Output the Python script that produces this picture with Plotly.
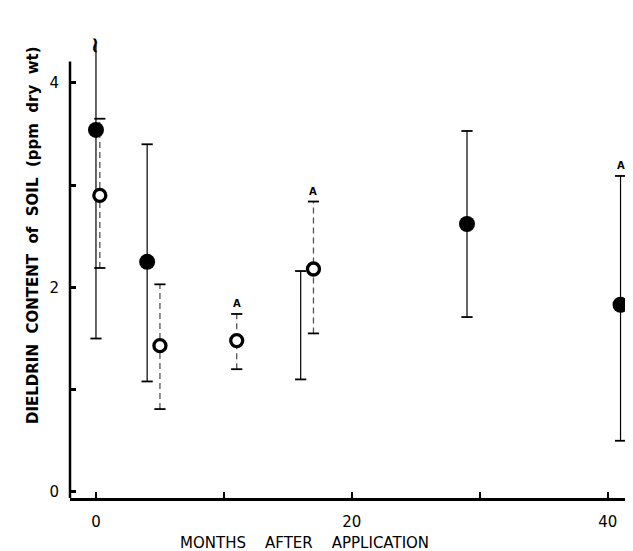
import plotly.graph_objects as go

# ---- data ----
filled_months = [0, 4, 29, 41]
filled_mean = [3.54, 2.25, 2.62, 1.83]
filled_low = [1.50, 1.08, 1.71, 0.50]
filled_high = [4.37, 3.40, 3.53, 3.09]
filled_broken = [True, False, False, False]   # upper bar runs off scale

bar_only_months = [16]
bar_only_low = [1.10]
bar_only_high = [2.16]

open_months = [0.3, 5, 11, 17]
open_mean = [2.90, 1.43, 1.48, 2.18]
open_low = [2.19, 0.81, 1.20, 1.55]
open_high = [3.65, 2.03, 1.74, 2.84]

a_months = [11, 17, 41]
a_values = [1.74, 2.84, 3.09]

x_tickvals = [0, 10, 20, 30, 40]
x_ticktext = ["0", "", "20", "", "40"]
y_tickvals = [0, 1, 2, 3, 4]
y_ticktext = ["0", "", "2", "", "4"]


def seg(xs, lo, hi):
    X, Y = [], []
    for x, a, b in zip(xs, lo, hi):
        X += [x, x, None]
        Y += [a, b, None]
    return X, Y


fig = go.Figure()

# solid bars (filled series + bar without marker)
sx, sy = seg(filled_months + bar_only_months, filled_low + bar_only_low,
             filled_high + bar_only_high)
fig.add_trace(go.Scatter(x=sx, y=sy, mode="lines",
                         line=dict(color="black", width=1.2),
                         hoverinfo="skip", showlegend=False))
# dashed bars (open series)
dx, dy = seg(open_months, open_low, open_high)
fig.add_trace(go.Scatter(x=dx, y=dy, mode="lines",
                         line=dict(color="#555", width=1.3, dash="6px,4px"),
                         hoverinfo="skip", showlegend=False))

# caps
cap_x = filled_months + bar_only_months * 2 + open_months * 2
cap_y = filled_low + bar_only_low + bar_only_high + open_low + open_high
for m, h, b in zip(filled_months, filled_high, filled_broken):
    if not b:
        cap_x.append(m)
        cap_y.append(h)
fig.add_trace(go.Scatter(x=cap_x, y=cap_y, mode="markers",
                         marker=dict(symbol="line-ew", size=8,
                                     line=dict(color="black", width=1.8)),
                         hoverinfo="skip", showlegend=False))

# markers
fig.add_trace(go.Scatter(x=filled_months, y=filled_mean, mode="markers",
                         marker=dict(symbol="circle", size=16, color="black",
                                     line=dict(width=0)),
                         showlegend=False))
fig.add_trace(go.Scatter(x=open_months, y=open_mean, mode="markers",
                         marker=dict(symbol="circle", size=12, color="white",
                                     line=dict(color="black", width=3.3)),
                         showlegend=False))

# "A" labels
for m, v in zip(a_months, a_values):
    fig.add_annotation(x=m, y=v, text="<b>A</b>", showarrow=False,
                       yanchor="bottom", yshift=3,
                       font=dict(family="DejaVu Sans", size=10, color="black"))

# scale break mark on the first filled bar
for m, h, b in zip(filled_months, filled_high, filled_broken):
    if b:
        fig.add_annotation(x=m, y=h, text="<b>~</b>", showarrow=False,
                           textangle=90,
                           font=dict(family="DejaVu Sans", size=22, color="black"))

# y axis line (drawn only up to the top of the scale)
fig.add_shape(type="line", xref="paper", yref="y", x0=0, x1=0,
              y0=-0.06, y1=4.21, line=dict(color="black", width=2.5))

# axis titles
fig.add_annotation(xref="paper", yref="paper", x=-0.066, y=0.575,
                   xanchor="center", yanchor="middle",
                   text="<b>DIELDRIN  CONTENT  of  SOIL  (ppm  dry  wt)</b>",
                   textangle=-90, showarrow=False,
                   font=dict(family="DejaVu Sans", size=15, color="black"))
fig.add_annotation(xref="paper", yref="paper", x=0.41, y=-0.098,
                   xanchor="center", yanchor="middle",
                   text="MONTHS    AFTER    APPLICATION", showarrow=False,
                   font=dict(family="DejaVu Sans", size=15, color="black"))

fig.update_layout(
    width=633, height=551,
    margin=dict(l=62, r=0, t=32, b=61),
    paper_bgcolor="white", plot_bgcolor="white",
    font=dict(family="DejaVu Sans", color="black"),
)
fig.update_xaxes(range=[-2.03, 42.6], tickvals=x_tickvals, ticktext=x_ticktext,
                 ticks="inside", ticklen=6, tickwidth=2, tickcolor="black",
                 showline=True, linecolor="black", linewidth=2.5,
                 showgrid=False, zeroline=False, ticklabelstandoff=8,
                 tickfont=dict(size=15, family="DejaVu Sans"))
fig.update_yaxes(range=[-0.06, 4.42], tickvals=y_tickvals, ticktext=y_ticktext,
                 ticks="inside", ticklen=6, tickwidth=2.5, tickcolor="black",
                 showline=False, showgrid=False, zeroline=False,
                 ticklabelstandoff=10,
                 tickfont=dict(size=15, family="DejaVu Sans"))

fig.write_html("out.html")
